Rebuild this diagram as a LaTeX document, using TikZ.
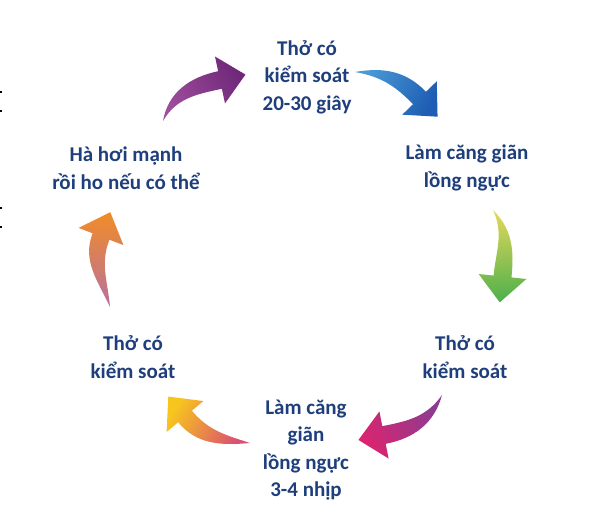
\documentclass[tikz,border=0pt]{standalone}
\usepackage{fontspec}
\setmainfont{Carlito}
\usepackage{xcolor}
\usepackage{tikz}
\usetikzlibrary{calc}
\definecolor{txt}{HTML}{1F3F7C}
\definecolor{purpT}{HTML}{9E4C9C}
\definecolor{purpH}{HTML}{6F2878}
\definecolor{blueT}{HTML}{4A9AD6}
\definecolor{blueH}{HTML}{1E5DB3}
\definecolor{grnT}{HTML}{E2D85A}
\definecolor{grnH}{HTML}{4FB04C}
\definecolor{magT}{HTML}{8C3C90}
\definecolor{magH}{HTML}{DA2470}
\definecolor{yelT}{HTML}{DA4F72}
\definecolor{yelM}{HTML}{F39A2E}
\definecolor{yelH}{HTML}{F7C51E}
\definecolor{orgT}{HTML}{B8709E}
\definecolor{orgH}{HTML}{F18C28}
\tikzset{
  lab/.style={text=txt, font=\bfseries\fontsize{21}{27.5}\selectfont, align=center},
  speck/.style={fill=black},
}
% curved arrow: #1 shading, #2 tail, #3/#4 leaving angles at the tail, #5 head base, #6 head direction
\newcommand\swoosh[6]{%
  \pgfmathsetmacro\arrback{#6+180}%
  \path (#5) ++(#6:26) coordinate (tip)
        (#5) ++(#6+90:9) coordinate (bl) (#5) ++(#6+90:24) coordinate (hl)
        (#5) ++(#6-90:9) coordinate (br) (#5) ++(#6-90:24) coordinate (hr);
  \shade[#1] (#2) to[out=#3,in=\arrback] (bl) -- (hl) -- (tip) -- (hr) -- (br)
    to[out=\arrback,in=#4] (#2) -- cycle;
}

\begin{document}
\begin{tikzpicture}[x=1pt,y=1pt]
  \useasboundingbox (0,0) rectangle (600,532);
  \fill[white] (0,0) rectangle (600,532);
  % labels round the cycle
  \node[lab] (top)  at (307,455) {Thở có\\kiểm soát\\20-30 giây};
  \node[lab] (rtop) at (467,364) {Làm căng giãn\\lồng ngực};
  \node[lab] (rbot) at (465,175) {Thở có\\kiểm soát};
  \node[lab] (bot)  at (306,82)  {Làm căng\\giãn\\lồng ngực\\3-4 nhịp};
  \node[lab] (lbot) at (133,175) {Thở có\\kiểm soát};
  \node[lab] (ltop) at (126,364) {Hà hơi mạnh\\rồi ho nếu có thể};
  % arrows
  \swoosh{left color=purpT,right color=purpH,shading angle=122}{163,411}{80}{60}{220,452}{12}
  \swoosh{left color=blueT,right color=blueH,shading angle=62}{355,460}{10}{-10}{419.5,434}{-46}
  \swoosh{left color=grnT,right color=grnH,shading angle=4}{493,322}{-45}{-65}{502.5,255.5}{-96}
  \swoosh{left color=magT,right color=magH,shading angle=298}{442,137}{-105}{-125}{384,97}{191}
  \swoosh{left color=yelT,middle color=yelM,right color=yelH,shading angle=240}{250,89}{185}{162}{185,115.5}{130}
  \swoosh{left color=orgT,right color=orgH,shading angle=180}{110,225}{115}{95}{101,295.5}{69}
  % specks on the left edge
  \foreach \y in {441,422,325,306}
    \fill[speck] (0,\y) rectangle (2,\y-2);
\end{tikzpicture}
\end{document}
